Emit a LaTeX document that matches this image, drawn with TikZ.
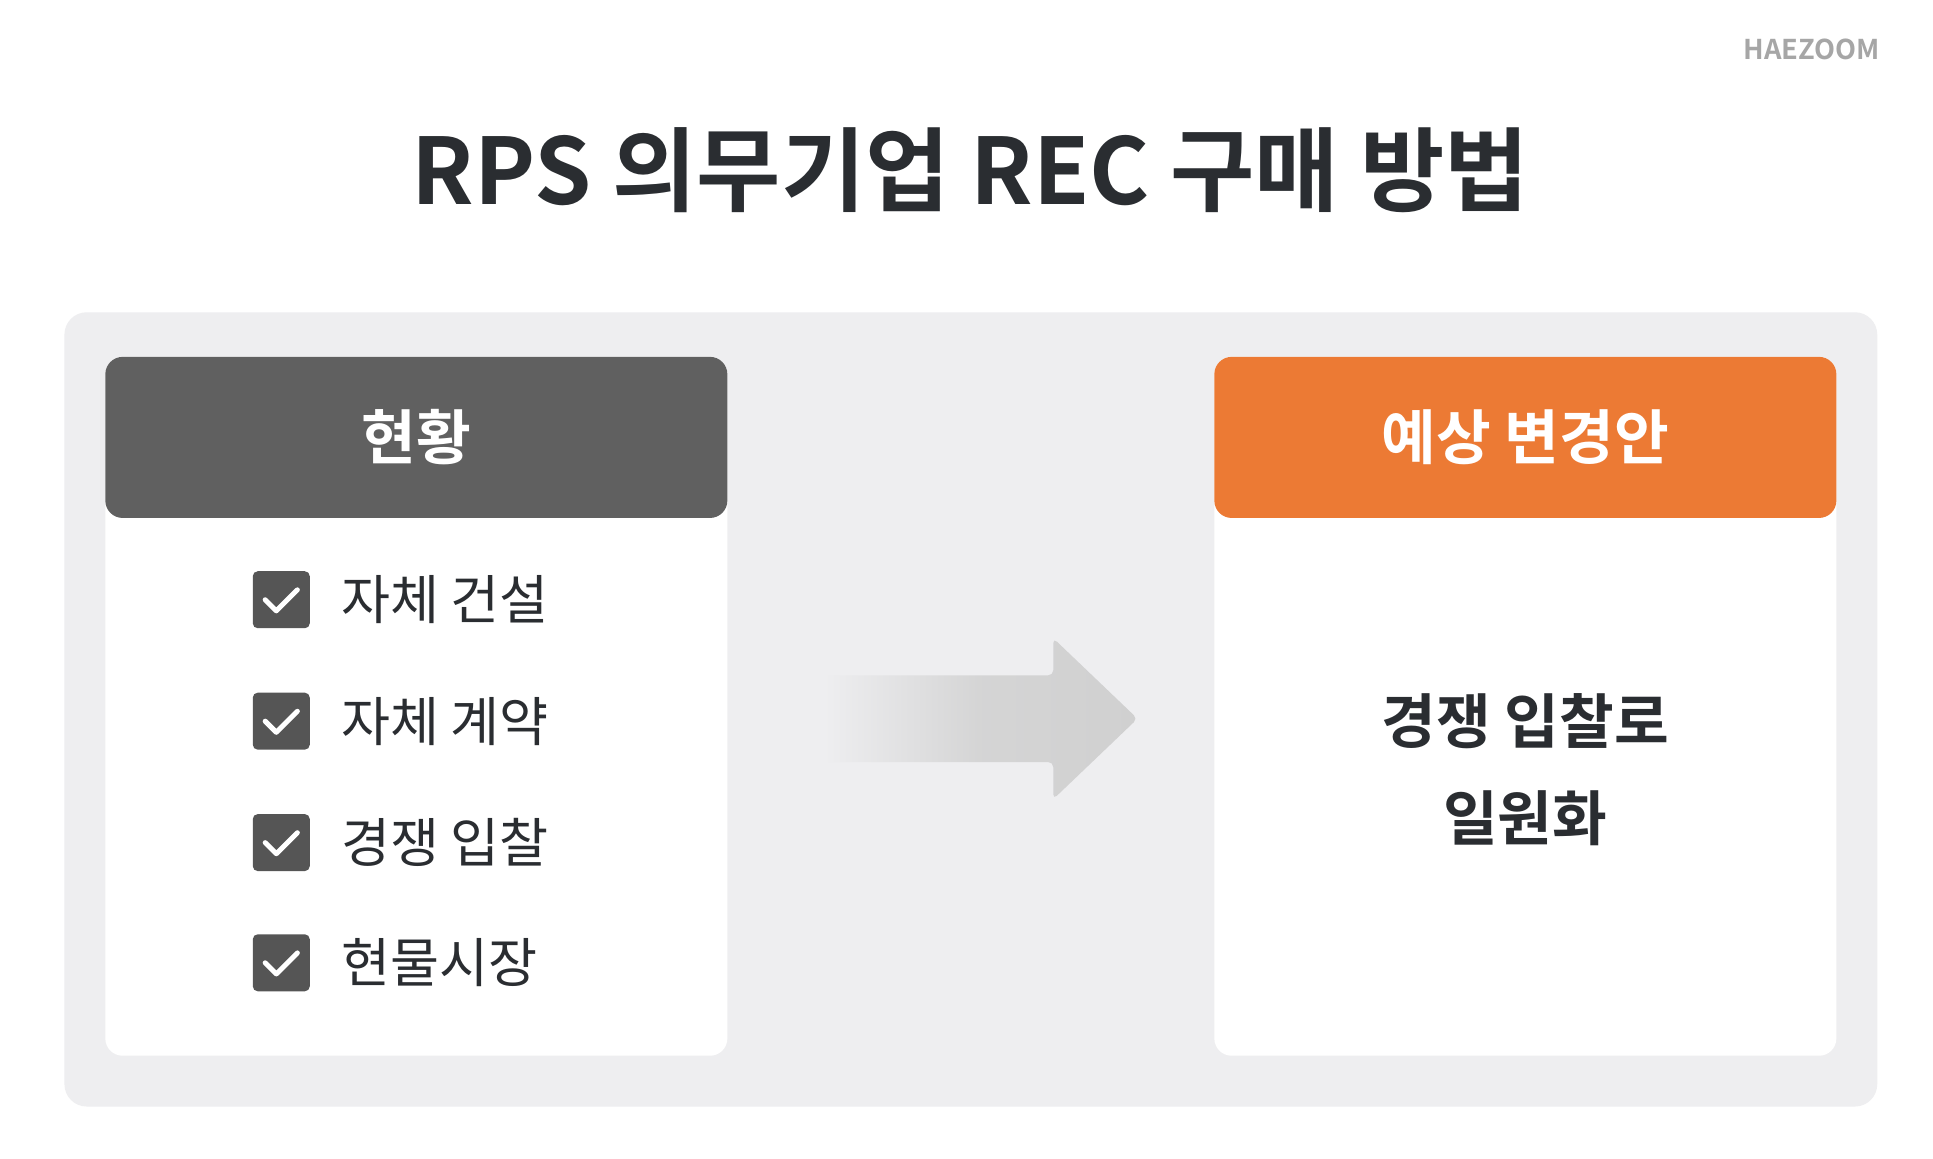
\documentclass[tikz,border=0pt]{standalone}
\usepackage{fontspec}
\setmainfont{Noto Sans CJK KR}
\newfontfamily\kb{Noto Sans CJK KR Bold}
\definecolor{panel}{HTML}{EEEEF0}
\definecolor{hdrgray}{HTML}{606060}
\definecolor{hdrorange}{HTML}{EC7A34}
\definecolor{boxgray}{HTML}{555555}
\definecolor{txt}{HTML}{2A2D31}
\definecolor{arrowgray}{HTML}{D0D0D0}
\tikzset{
 card/.style={fill=white,rounded corners=14pt},
 chk/.style={fill=boxgray,rounded corners=4pt,minimum size=46pt,inner sep=0pt},
 item/.style={anchor=west,font=\fontsize{43}{50}\selectfont,text=txt,inner sep=0pt},
 hdrtxt/.style={text=white,font=\kb\fontsize{48}{56}\selectfont}
}
\begin{document}
\begin{tikzpicture}[x=1pt,y=-1pt]
\useasboundingbox (0,0) rectangle (1560,935);
\fill[white] (0,0) rectangle (1560,935);
\node[text=gray!70,font=\kb\fontsize{22}{26}\selectfont] (logo) at (1462,40) {HAEZOOM};
\node[text=txt,font=\kb\fontsize{74}{84}\selectfont] (title) at (783,137) {RPS 의무기업 REC 구매 방법};
\fill[panel,rounded corners=18pt] (52,252) rectangle (1515,893);
% left card
\fill[card] (85,288) rectangle (587,852);
\fill[hdrgray,rounded corners=14pt] (85,288) rectangle (587,418);
\node[hdrtxt] (h1) at (336,353) {현황};
\foreach \y/\t [count=\i] in {484/자체 건설,582/자체 계약,680/경쟁 입찰,777/현물시장}{
  \node[chk] (c\i) at (227,\y) {};
  \draw[white,line width=4pt,line cap=round,line join=round] (214,\y) -- (223,\y+9) -- (240,\y-8);
  \node[item] (t\i) at (275,\y) {\t};
}
% right card
\fill[card] (980,288) rectangle (1482,852);
\fill[hdrorange,rounded corners=14pt] (980,288) rectangle (1482,418);
\node[hdrtxt] (h2) at (1231,353) {예상 변경안};
\node[text=txt,font=\kb\fontsize{48}{78}\selectfont,align=center] (res) at (1231,621) {경쟁 입찰로\\일원화};
% arrow
\shade[left color=panel,right color=arrowgray,middle color=arrowgray!85!panel,rounded corners=4pt]
 (665,545) -- (850,545) -- (850,515) -- (918,580) -- (850,645) -- (850,615) -- (665,615) -- cycle;
\end{tikzpicture}
\end{document}
